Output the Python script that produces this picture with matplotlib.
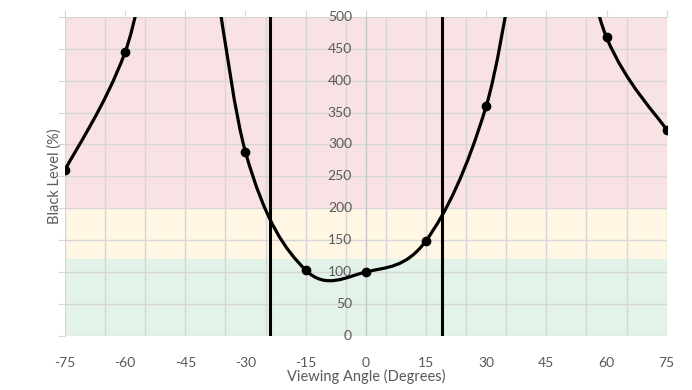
import matplotlib
matplotlib.use("Agg")
from matplotlib import pyplot as plt
from matplotlib.path import Path
from matplotlib.patches import PathPatch

plt.rcParams['font.family'] = ['Lato', 'DejaVu Sans']

# данные графика
angles = [-75, -60, -45, -30, -15, 0, 15, 30, 45, 60, 75]
black_level = [260, 445, 770, 288, 103, 100, 149, 360, 770, 468, 323]
cut_lines = [-24, 19]  # вертикальные линии
x_ticks = [-75, -60, -45, -30, -15, 0, 15, 30, 45, 60, 75]
y_ticks = [0, 50, 100, 150, 200, 250, 300, 350, 400, 450, 500]
bands = [(0, 120, '#e3f3e9'), (120, 200, '#fff7e4'), (200, 500, '#f9e2e3')]

text_color = '#595959'
grid_color = '#d6d6d6'


def smooth_path(x, y):  # сглаженная линия как в Excel (кривые Безье)
    n = len(x)
    verts = [(x[0], y[0])]
    codes = [Path.MOVETO]
    for i in range(n - 1):
        i0 = max(i - 1, 0)
        i3 = min(i + 2, n - 1)
        c1 = (x[i] + (x[i + 1] - x[i0]) / 6, y[i] + (y[i + 1] - y[i0]) / 6)
        c2 = (x[i + 1] - (x[i3] - x[i]) / 6, y[i + 1] - (y[i3] - y[i]) / 6)
        verts += [c1, c2, (x[i + 1], y[i + 1])]
        codes += [Path.CURVE4] * 3
    return Path(verts, codes)


fig = plt.figure(figsize=(6.92, 3.9), dpi=100)
ax = fig.add_axes([0.0939, 0.1392, 0.8695, 0.8172])

for lo, hi, col in bands:
    ax.axhspan(lo, hi, color=col, lw=0, zorder=0)

# сетка: вертикальные через 10 (от -75), горизонтальные через 50
for gx in range(-75, 76, 10):
    ax.axvline(gx, color=grid_color, lw=1, zorder=1)
for gy in y_ticks:
    ax.axhline(gy, color=grid_color, lw=1, zorder=1)
ax.axvline(0, color='#c8c8c8', lw=1, zorder=1)

# подписи оси Y по центру
for v in y_ticks:
    ax.annotate(str(v), (0, v), xytext=(-10, 0), textcoords='offset points',
                ha='right', va='center', color=text_color, fontsize=10, zorder=2)

patch = PathPatch(smooth_path(angles, black_level), facecolor='none',
                  edgecolor='black', lw=2.3, zorder=4, clip_on=True)
ax.add_patch(patch)
ax.plot(angles, black_level, 'o', color='black', ms=6, zorder=5, clip_on=True)

for cx in cut_lines:
    ax.axvline(cx, color='black', lw=2.2, zorder=6)

ax.set_xlim(-75, 75)
ax.set_ylim(0, 500)
ax.set_xticks(x_ticks)
ax.set_xticklabels([str(t) for t in x_ticks])
ax.set_yticks(y_ticks)
ax.set_yticklabels([])
ax.tick_params(axis='x', bottom=False, top=True, labelbottom=True, labeltop=False,
               direction='out', length=5, color=grid_color, labelcolor=text_color,
               labelsize=10, pad=10)
ax.tick_params(axis='y', left=True, direction='out', length=5, color=grid_color)
for s in ax.spines.values():
    s.set_visible(False)

ax.set_xlabel('Viewing Angle (Degrees)', color=text_color, fontsize=10.5, labelpad=0)
ax.set_ylabel('Black Level (%)', color=text_color, fontsize=10.5, va='center')
ax.yaxis.set_label_coords(-0.017, 0.5)

fig.savefig('out.png', dpi=100)
